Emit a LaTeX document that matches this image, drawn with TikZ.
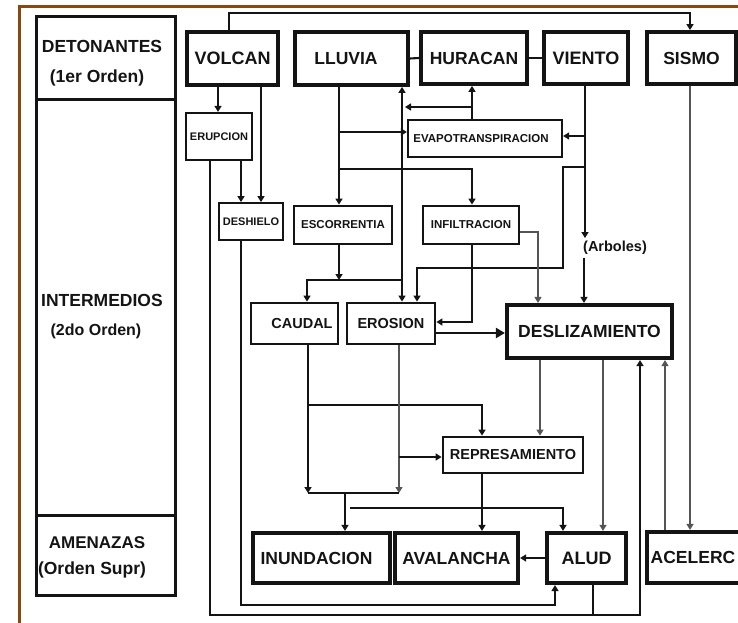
\documentclass[tikz,border=0pt]{standalone}
\usepackage{fontspec}
\setmainfont{Liberation Sans}
\usetikzlibrary{arrows.meta}
\newcommand{\fsz}[1]{\fontsize{#1pt}{#1pt}\selectfont\bfseries}
\definecolor{framebrown}{RGB}{139,72,14}
\definecolor{ink}{RGB}{20,20,20}
\definecolor{thinink}{RGB}{85,85,85}
\begin{document}
\begin{tikzpicture}[x=1pt,y=-1pt,
  bx/.style={draw=ink, text=ink, inner sep=0pt, line width=#1},
  bx/.default=2.5pt,
  lab/.style={text=ink, inner sep=0pt},
  ln/.style={draw=ink, line width=2.1pt},
  con/.style={ln, -{Triangle[length=6pt,width=7pt]}},
  con2/.style={ln, {Triangle[length=6pt,width=7pt]}-{Triangle[length=6pt,width=7pt]}},
  tln/.style={draw=thinink, line width=1.4pt},
  tcon/.style={tln, -{Triangle[length=6pt,width=7pt]}},
  bigcon/.style={ln, line width=2.6pt, -{Triangle[length=9pt,width=10pt]}}
]
\useasboundingbox (0,0) rectangle (738,623);
\clip (0,0) rectangle (738,623);
\fill[white] (0,0) rectangle (738,623);
% frame
\draw[framebrown, line width=3pt] (19.5,630) -- (19.5,6.5) -- (745,6.5);

% left column
\node[bx=3pt, minimum width=139pt, minimum height=83pt] (det) at (105.5,58.5) {};
\node[bx=3pt, minimum width=139pt, minimum height=415pt] (int) at (105.5,307.5) {};
\node[bx=3pt, minimum width=139pt, minimum height=80pt] (ame) at (105.5,555) {};
\node[lab, font=\fsz{17.5}] (tdet) at (102,46.5) {DETONANTES};
\node[lab, font=\fsz{17.5}] (tdet2) at (97,78) {(1er Orden)};
\node[lab, font=\fsz{17.5}] (tint) at (102,300) {INTERMEDIOS};
\node[lab, font=\fsz{16}] (tint2) at (96,331) {(2do Orden)};
\node[lab, font=\fsz{17}] (tame) at (97,543) {AMENAZAS};
\node[lab, font=\fsz{17.5}] (tame2) at (92,570) {(Orden Supr)};

% top row
\node[bx=3.8pt, minimum width=91pt, minimum height=53pt, font=\fsz{18}] (volcan) at (232.5,58.5) {VOLCAN};
\node[bx=3.8pt, minimum width=113pt, minimum height=53pt, font=\fsz{17.5}] (lluvia) at (351.5,58.5) {LLUVIA\hspace*{11pt}};
\node[bx=3.8pt, minimum width=106pt, minimum height=52pt, font=\fsz{17.5}] (huracan) at (474,58) {HURACAN};
\node[bx=3.8pt, minimum width=84pt, minimum height=52pt, font=\fsz{18}] (viento) at (586,58) {VIENTO};
\node[bx=3.8pt, minimum width=89pt, minimum height=52pt, font=\fsz{17.5}] (sismo) at (691.5,58) {SISMO};

% intermediate
\node[bx=2.2pt, minimum width=66pt, minimum height=47pt, font=\fsz{11}] (erupcion) at (219,136.5) {ERUPCION};
\node[bx=1.8pt, minimum width=64pt, minimum height=37pt, font=\fsz{11}] (deshielo) at (251,221.5) {DESHIELO};
\node[bx=2.8pt, minimum width=98pt, minimum height=38pt, font=\fsz{11.5}] (escorrentia) at (343,225) {ESCORRENTIA};
\node[bx=2.2pt, minimum width=154pt, minimum height=37pt, font=\fsz{11.5}] (evapo) at (485,138.5) {EVAPOTRANSPIRACION\hspace*{8pt}};
\node[bx=2.8pt, minimum width=96pt, minimum height=38pt, font=\fsz{11.5}] (infil) at (471,225) {INFILTRACION};
\node[bx=2.8pt, minimum width=87pt, minimum height=41pt, font=\fsz{14.5}] (caudal) at (294.5,323.5) {\hspace*{15pt}CAUDAL};
\node[bx=2.8pt, minimum width=88pt, minimum height=41pt, font=\fsz{14.5}] (erosion) at (391,323.5) {EROSION};
\node[bx=4.2pt, minimum width=165pt, minimum height=53pt, font=\fsz{17.5}] (desliz) at (589.5,331.5) {DESLIZAMIENTO};
\node[bx=2.8pt, minimum width=140pt, minimum height=36pt, font=\fsz{14.5}] (repres) at (513,455) {REPRESAMIENTO};
\node[lab, font=\fsz{14.5}, inner sep=3pt] (arboles) at (615,248) {(Arboles)};

% bottom row
\node[bx=4.2pt, minimum width=137pt, minimum height=50pt, font=\fsz{17.5}] (inund) at (321.5,558) {INUNDACION\hspace*{10pt}};
\node[bx=4.2pt, minimum width=123pt, minimum height=50pt, font=\fsz{17.5}] (avalan) at (456.5,558) {AVALANCHA};
\node[bx=4.2pt, minimum width=79pt, minimum height=50pt, font=\fsz{18}] (alud) at (586.5,558) {ALUD};
\node[bx=4.2pt, minimum width=98pt, minimum height=51pt, font=\fsz{17.5}] (acel) at (696,557.5) {ACELERC\hspace*{6pt}};

% coordinates
\coordinate (tA) at (229,13);
\coordinate (tB) at (690,13);
\coordinate (xVE) at (218,100);
\coordinate (xVD) at (261,100);
\coordinate (xED) at (241,100);
\coordinate (b1L) at (210,615);
\coordinate (b1R) at (640,615);
\coordinate (b2L) at (241,605);
\coordinate (b2R) at (555,605);
\coordinate (b3) at (593,615);
\coordinate (L1) at (339,132);
\coordinate (L2) at (339,169);
\coordinate (L3) at (472,169);
\coordinate (L4) at (402,280);
\coordinate (E1) at (472,107);
\coordinate (E2) at (405,107);
\coordinate (S1) at (339,280);
\coordinate (S2) at (307,280);
\coordinate (V1) at (585,136);
\coordinate (V2) at (585,167);
\coordinate (V3) at (563,167);
\coordinate (V4) at (563,268);
\coordinate (V5) at (417,268);
\coordinate (A1) at (584,300);
\coordinate (I1) at (472,322);
\coordinate (I2) at (538,232);
\coordinate (R1) at (436,333);
\coordinate (C1) at (308,405);
\coordinate (C2) at (308,493);
\coordinate (C3) at (482,405);
\coordinate (O1) at (399,457);
\coordinate (O2) at (399,493);
\coordinate (N1) at (345,493);
\coordinate (N2) at (350,508);
\coordinate (N3) at (563,508);
\coordinate (D1) at (540,400);
\coordinate (D2) at (603,400);
\coordinate (D3) at (665,400);

% connectors
\draw[con] (volcan.north -| tA) -- (tA) -- (tB) -- (sismo.north -| tB);
\draw[ln] (lluvia.east) -- (huracan.west);
\draw[ln] (huracan.east) -- (viento.west);
\draw[con] (volcan.south -| xVE) -- (erupcion.north -| xVE);
\draw[con] (volcan.south -| xVD) -- (deshielo.north -| xVD);
\draw[con] (erupcion.south -| xED) -- (deshielo.north -| xED);
\draw[con] (erupcion.south -| b1L) -- (b1L) -- (b1R) -- (desliz.south -| b1R);
\draw[con] (deshielo.south -| b2L) -- (b2L) -- (b2R) -- (alud.south -| b2R);
\draw[ln] (alud.south -| b3) -- (b3);

\draw[con] (lluvia.south -| L1) -- (escorrentia.north -| L1);
\draw[con] (L1) -- (L1 -| evapo.west);
\draw[con] (L2) -- (L3) -- (infil.north -| L3);
\draw[con] (evapo.north -| E1) -- (huracan.south -| E1);
\draw[con] (E1) -- (E2);
\draw[con2] (lluvia.south -| L4) -- (erosion.north -| L4);
\draw[con] (escorrentia.south -| S1) -- (S1);
\draw[con] (L4) -- (S2) -- (caudal.north -| S2);

\draw[con] (viento.south -| V1) -- (arboles.north -| V1);
\draw[con] (V1) -- (V1 -| evapo.east);
\draw[con] (V2) -- (V3) -- (V4) -- (V5) -- (erosion.north -| V5);
\draw[con] (arboles.south -| A1) -- (desliz.north -| A1);

\draw[con] (infil.south -| I1) -- (I1) -- (I1 -| erosion.east);
\draw[tcon] (I2 -| infil.east) -- (I2) -- (desliz.north -| I2);
\draw[bigcon] (R1 -| erosion.east) -- (R1 -| desliz.west);

\draw[con] (caudal.south -| C1) -- (C2);
\draw[con] (C1) -- (C3) -- (repres.north -| C3);
\draw[tcon] (erosion.south -| O1) -- (O2);
\draw[con] (O1) -- (O1 -| repres.west);
\draw[ln] (C2) -- (O2);
\draw[con] (N1) -- (inund.north -| N1);
\draw[con] (N2) -- (N3) -- (alud.north -| N3);
\draw[con] (repres.south -| C3) -- (avalan.north -| C3);
\draw[tcon] (desliz.south -| D1) -- (repres.north -| D1);
\draw[tcon] (desliz.south -| D2) -- (alud.north -| D2);
\draw[tcon] (acel.north -| D3) -- (desliz.south -| D3);
\draw[tcon] (sismo.south -| tB) -- (acel.north -| tB);
\draw[con] (alud.west) -- (avalan.east);
\end{tikzpicture}
\end{document}
